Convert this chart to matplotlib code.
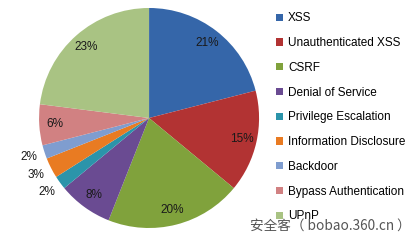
import matplotlib
matplotlib.use("Agg")
import matplotlib.pyplot as plt
import numpy as np
from matplotlib.patches import Patch

labels = ["XSS", "Unauthenticated XSS", "CSRF", "Denial of Service",
          "Privilege Escalation", "Information Disclosure", "Backdoor",
          "Bypass Authentication", "UPnP"]
values = [21, 15, 20, 8, 2, 3, 2, 6, 23]
colors = ["#3566a9", "#b23333", "#80a23c", "#6a4b92", "#2b94aa",
          "#e97b22", "#7f9dcf", "#d18182", "#a9c383"]

plt.rcParams['font.family'] = ['Liberation Sans', 'DejaVu Sans']

fig = plt.figure(figsize=(4.2, 2.4), dpi=100)
ax = fig.add_axes([0.0929, 0.05, 0.524, 0.9167])

wedges, texts, autotexts = ax.pie(
    values, colors=colors, startangle=90, counterclock=False,
    autopct=lambda p: "%d%%" % round(p), pctdistance=0.86,
    wedgeprops=dict(edgecolor="none", linewidth=0),
    textprops=dict(fontsize=8.5, color="#1a1a1a"))
ax.set_xlim(-1, 1)
ax.set_ylim(-1, 1)
ax.set_aspect("equal")

# small slices get their labels outside the pie
for w, t, v in zip(wedges, autotexts, values):
    if v <= 3:
        ang = np.deg2rad((w.theta1 + w.theta2) / 2)
        t.set_position((1.15 * np.cos(ang), 1.15 * np.sin(ang)))
        t.set_ha("center")

handles = [Patch(facecolor=c, edgecolor="none") for c in colors]
fig.legend(handles, labels, loc="upper left", bbox_to_anchor=(0.658, 0.948),
           frameon=False, fontsize=8.5, handlelength=0.55, handleheight=0.55,
           handletextpad=0.45, labelspacing=1.08, borderaxespad=0, borderpad=0)

fig.text(0.595, 0.045, "安全客（ bobao.360.cn ）", fontsize=9.8, color="#555555",
         family=['Noto Sans CJK SC', 'DejaVu Sans'])

fig.savefig("out.png", dpi=100)
